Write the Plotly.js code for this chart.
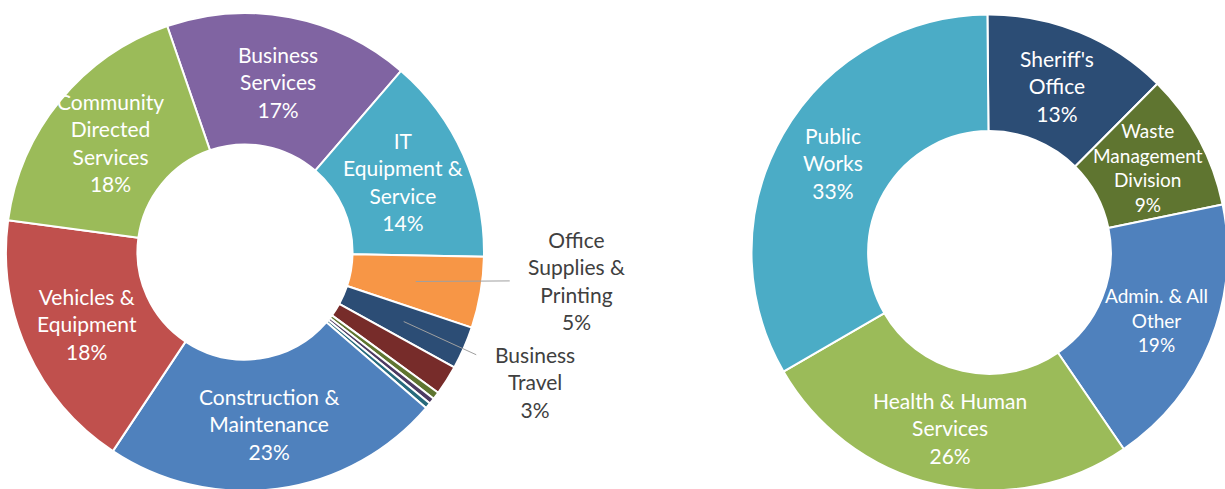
<!DOCTYPE html>
<html>
<head>
<meta charset="utf-8">
<script src="https://cdn.plot.ly/plotly-3.0.1.min.js"></script>
<style>
html,body{margin:0;padding:0;background:#fff;overflow:hidden;}
#chart{width:1240px;height:500px;}
</style>
</head>
<body>
<div id="chart"></div>
<script>
// Left donut: spending by category
const leftLabels = ['Business<br>Services', 'IT<br>Equipment &<br>Service', 'Office<br>Supplies &<br>Printing', 'Business<br>Travel', 'Other A', 'Other B', 'Other C', 'Other D', 'Construction &<br>Maintenance', 'Vehicles &<br>Equipment', 'Community<br>Directed<br>Services'];
const leftValues = [16.6, 14.0, 4.8, 2.9, 2.0, 0.5, 0.4, 0.4, 23.0, 17.8, 17.6];
const leftColors = ['#8064A2', '#4BACC6', '#F79646', '#2C4D75', '#772C2A', '#5F7530', '#4D3B62', '#276A7C', '#4F81BD', '#C0504D', '#9BBB59'];
// label placement per slice: 'in' = inside the ring, 'out' = callout with leader line, '' = no label
const leftLabelMode = ['in', 'in', 'out', 'out', '', '', '', '', 'in', 'in', 'in'];
const leftCalloutOffsets = {2: [161, -1], 3: [131, 60]};

// Right donut: spending by department
const rightLabels = ["Sheriff's<br>Office", 'Waste<br>Management<br>Division', 'Admin. & All<br>Other', 'Health & Human<br>Services', 'Public<br>Works'];
const rightValues = [12.6, 9.3, 18.7, 26.2, 33.2];
const rightColors = ['#2C4D75', '#5F7530', '#4F81BD', '#9BBB59', '#4BACC6'];
const rightLabelMode = ['in', 'in', 'in', 'in', 'in'];
const rightFontSizes = [21, 19, 19, 21, 21];

const W = 1240, H = 500;
const L = {cx: 245, cy: 252, r: 239, hole: 0.45, rot: -19};
const R = {cx: 989.5, cy: 252.5, r: 238, hole: 0.51, rot: -0.5};
function dom(p) {
  return {x: [(p.cx - p.r) / W, (p.cx + p.r) / W], y: [(H - (p.cy + p.r)) / H, (H - (p.cy - p.r)) / H]};
}

const font = 'Lato, "Open Sans", sans-serif';
const FS = 21;

function pieTrace(labels, values, colors, p) {
  return {
    type: 'pie', sort: false, direction: 'clockwise', rotation: p.rot,
    labels: labels, values: values,
    marker: {colors: colors, line: {color: '#ffffff', width: 2}},
    hole: p.hole, domain: dom(p),
    textinfo: 'none', showlegend: false, hoverinfo: 'label+percent'
  };
}

const traces = [
  pieTrace(leftLabels, leftValues, leftColors, L),
  pieTrace(rightLabels, rightValues, rightColors, R)
];

// slice labels, placed at each slice's mid-angle on the middle of the ring (computed from the values)
function sliceLabels(labels, values, modes, sizes, p, offsets) {
  const total = values.reduce((a, b) => a + b, 0);
  const out = [];
  let before = 0;
  values.forEach((v, i) => {
    const mid = (p.rot + 360 * (before + v / 2) / total) * Math.PI / 180;
    before += v;
    if (!modes[i]) return;
    const rr = p.r * (1 + p.hole) / 2;
    const px = p.cx + rr * Math.sin(mid), py = p.cy - rr * Math.cos(mid);
    const pct = Math.round(100 * v / total);
    const a = {
      xref: 'paper', yref: 'paper', x: px / W, y: (H - py) / H,
      text: labels[i] + '<br>' + pct + '%', align: 'center'
    };
    if (modes[i] === 'in') {
      Object.assign(a, {showarrow: false, xanchor: 'center', yanchor: 'middle',
        font: {family: font, size: sizes ? sizes[i] : FS, color: '#ffffff'}});
    } else {
      Object.assign(a, {showarrow: true, arrowhead: 0, arrowwidth: 1, arrowcolor: '#A0A0A0',
        ax: offsets[i][0], ay: offsets[i][1], borderpad: 18,
        font: {family: font, size: FS, color: '#404040'}});
    }
    out.push(a);
  });
  return out;
}

const annotations = sliceLabels(leftLabels, leftValues, leftLabelMode, null, L, leftCalloutOffsets)
  .concat(sliceLabels(rightLabels, rightValues, rightLabelMode, rightFontSizes, R, {}));

const layout = {
  width: W, height: H,
  margin: {l: 0, r: 0, t: 0, b: 0},
  paper_bgcolor: '#ffffff', plot_bgcolor: '#ffffff',
  font: {family: font, color: '#404040'},
  showlegend: false,
  annotations: annotations
};

Plotly.newPlot('chart', traces, layout, {displayModeBar: false, staticPlot: true});
</script>
</body>
</html>
